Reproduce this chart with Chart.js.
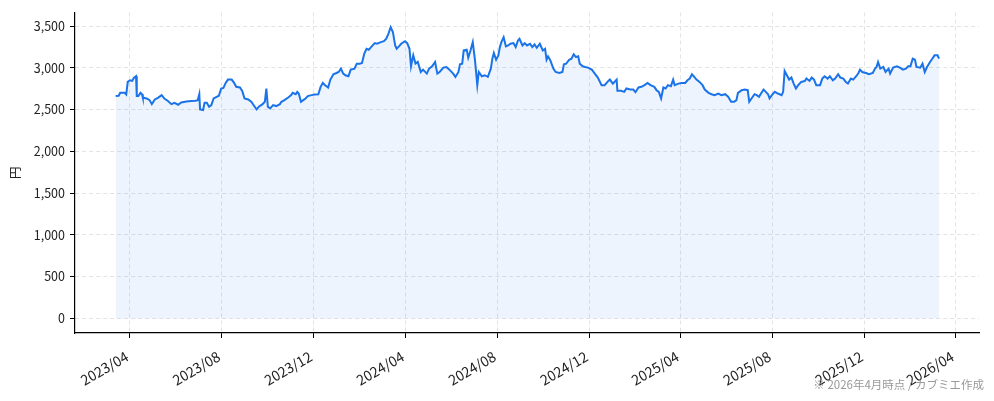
<!DOCTYPE html>
<html lang="ja">
<head>
<meta charset="utf-8">
<title>株価推移</title>
<script src="https://cdn.jsdelivr.net/npm/chart.js@4.4.1/dist/chart.umd.min.js"></script>
<style>
  html, body { margin: 0; padding: 0; background: #fff; }
  #wrap { width: 994px; height: 401px; }
</style>
</head>
<body>
<div id="wrap"><canvas id="price" width="994" height="401"></canvas></div>
<script>
// daily close (円)
const dates = [
  '2023-03-13','2023-03-17','2023-03-19','2023-03-25','2023-03-27','2023-03-29','2023-04-01','2023-04-04',
  '2023-04-06','2023-04-09','2023-04-10','2023-04-12','2023-04-15','2023-04-17','2023-04-18','2023-04-23',
  '2023-04-27','2023-04-30','2023-05-04','2023-05-08','2023-05-13','2023-05-17','2023-05-21','2023-05-26',
  '2023-05-30','2023-06-04','2023-06-08','2023-06-15','2023-06-21','2023-06-27','2023-06-30','2023-07-02',
  '2023-07-03','2023-07-07','2023-07-09','2023-07-12','2023-07-15','2023-07-18','2023-07-21','2023-07-25',
  '2023-07-28','2023-07-31','2023-08-03','2023-08-06','2023-08-09','2023-08-14','2023-08-17','2023-08-20',
  '2023-08-25','2023-08-28','2023-08-31','2023-09-05','2023-09-09','2023-09-12','2023-09-16','2023-09-19',
  '2023-09-24','2023-09-27','2023-09-29','2023-10-01','2023-10-04','2023-10-08','2023-10-12','2023-10-17',
  '2023-10-19','2023-10-23','2023-10-28','2023-11-01','2023-11-03','2023-11-07','2023-11-09','2023-11-11',
  '2023-11-14','2023-11-17','2023-11-20','2023-11-23','2023-11-28','2023-12-02','2023-12-07','2023-12-10',
  '2023-12-13','2023-12-16','2023-12-20','2023-12-23','2023-12-27','2023-12-31','2024-01-03','2024-01-06',
  '2024-01-09','2024-01-12','2024-01-16','2024-01-19','2024-01-24','2024-01-27','2024-01-31','2024-02-03',
  '2024-02-06','2024-02-09','2024-02-12','2024-02-15','2024-02-20','2024-02-23','2024-02-28','2024-03-03',
  '2024-03-06','2024-03-09','2024-03-12','2024-03-15','2024-03-18','2024-03-20','2024-03-23','2024-03-26',
  '2024-03-31','2024-04-03','2024-04-06','2024-04-08','2024-04-11','2024-04-14','2024-04-17','2024-04-21',
  '2024-04-24','2024-04-29','2024-05-02','2024-05-06','2024-05-10','2024-05-13','2024-05-16','2024-05-21',
  '2024-05-25','2024-05-29','2024-06-03','2024-06-06','2024-06-10','2024-06-12','2024-06-15','2024-06-17',
  '2024-06-21','2024-06-23','2024-06-26','2024-06-29','2024-07-02','2024-07-05','2024-07-07','2024-07-11',
  '2024-07-15','2024-07-19','2024-07-23','2024-07-25','2024-07-27','2024-07-30','2024-08-02','2024-08-04',
  '2024-08-06','2024-08-09','2024-08-12','2024-08-15','2024-08-18','2024-08-22','2024-08-25','2024-08-28',
  '2024-08-30','2024-09-03','2024-09-06','2024-09-09','2024-09-13','2024-09-16','2024-09-19','2024-09-22',
  '2024-09-26','2024-09-30','2024-10-03','2024-10-05','2024-10-07','2024-10-10','2024-10-14','2024-10-17',
  '2024-10-22','2024-10-26','2024-10-28','2024-10-31','2024-11-04','2024-11-07','2024-11-10','2024-11-13',
  '2024-11-16','2024-11-18','2024-11-22','2024-11-25','2024-11-29','2024-12-04','2024-12-08','2024-12-12',
  '2024-12-17','2024-12-21','2024-12-26','2024-12-28','2025-01-01','2025-01-06','2025-01-07','2025-01-12',
  '2025-01-16','2025-01-19','2025-01-24','2025-01-28','2025-01-31','2025-02-04','2025-02-08','2025-02-12',
  '2025-02-16','2025-02-20','2025-02-25','2025-02-28','2025-03-03','2025-03-06','2025-03-09','2025-03-12',
  '2025-03-15','2025-03-19','2025-03-22','2025-03-24','2025-03-29','2025-04-02','2025-04-07','2025-04-10',
  '2025-04-13','2025-04-16','2025-04-19','2025-04-22','2025-04-26','2025-04-30','2025-05-03','2025-05-08',
  '2025-05-12','2025-05-16','2025-05-21','2025-05-25','2025-05-30','2025-06-03','2025-06-07','2025-06-11',
  '2025-06-14','2025-06-16','2025-06-21','2025-06-25','2025-06-29','2025-07-01','2025-07-04','2025-07-08',
  '2025-07-11','2025-07-14','2025-07-16','2025-07-20','2025-07-23','2025-07-26','2025-07-28','2025-08-01',
  '2025-08-04','2025-08-08','2025-08-13','2025-08-15','2025-08-17','2025-08-20','2025-08-23','2025-08-26',
  '2025-08-29','2025-09-01','2025-09-04','2025-09-08','2025-09-13','2025-09-15','2025-09-19','2025-09-22',
  '2025-09-25','2025-09-28','2025-10-03','2025-10-06','2025-10-09','2025-10-13','2025-10-16','2025-10-20',
  '2025-10-23','2025-10-27','2025-10-30','2025-11-03','2025-11-06','2025-11-09','2025-11-13','2025-11-16',
  '2025-11-20','2025-11-23','2025-11-25','2025-11-28','2025-12-03','2025-12-07','2025-12-12','2025-12-15',
  '2025-12-17','2025-12-19','2025-12-22','2025-12-26','2025-12-29','2026-01-02','2026-01-04','2026-01-08',
  '2026-01-13','2026-01-17','2026-01-21','2026-01-25','2026-01-28','2026-01-31','2026-02-03','2026-02-06',
  '2026-02-08','2026-02-13','2026-02-16','2026-02-19','2026-02-22','2026-02-26','2026-03-01','2026-03-04',
  '2026-03-08','2026-03-10'
];

const prices = [
  2663,2667,2702,2702,2682,2833,2853,2845,
  2881,2901,2663,2663,2702,2686,2647,2635,
  2615,2567,2623,2643,2675,2631,2607,2567,
  2583,2560,2587,2599,2603,2607,2615,2686,
  2504,2496,2583,2583,2536,2556,2635,2655,
  2667,2754,2762,2821,2861,2861,2825,2774,
  2766,2726,2635,2623,2595,2556,2504,2536,
  2567,2595,2754,2536,2516,2556,2544,2567,
  2595,2615,2647,2675,2702,2686,2714,2694,
  2595,2615,2635,2663,2675,2682,2686,2774,
  2821,2794,2766,2861,2925,2940,2952,2992,
  2933,2913,2901,2980,2992,3052,3052,3060,
  3171,3230,3218,3250,3298,3290,3310,3321,
  3349,3409,3488,3429,3270,3230,3258,3290,
  3321,3298,3230,3020,3151,3052,3072,2952,
  2980,2933,2992,3020,3072,2933,2952,3004,
  3012,2980,2933,2893,2952,3044,3052,3210,
  3218,3123,3210,3310,3091,2794,2952,2901,
  2913,2893,2992,3111,3179,3099,3151,3250,
  3310,3369,3258,3270,3290,3298,3250,3329,
  3349,3270,3298,3270,3290,3250,3282,3242,
  3290,3210,3230,3099,3139,3091,2992,2952,
  2940,2952,3044,3052,3099,3111,3163,3131,
  3139,3052,3020,3012,3004,2980,2933,2885,
  2794,2794,2845,2861,2813,2861,2726,2726,
  2714,2754,2742,2742,2710,2766,2774,2794,
  2821,2794,2774,2734,2714,2635,2766,2754,
  2794,2782,2861,2794,2813,2821,2821,2853,
  2873,2925,2893,2861,2833,2794,2742,2702,
  2686,2675,2694,2675,2686,2655,2595,2595,
  2615,2702,2734,2742,2734,2595,2635,2686,
  2675,2655,2686,2742,2714,2686,2635,2686,
  2714,2694,2675,2714,2964,2913,2861,2885,
  2813,2754,2794,2833,2845,2873,2845,2885,
  2861,2794,2794,2873,2901,2873,2901,2853,
  2873,2925,2885,2873,2833,2813,2873,2861,
  2901,2940,2980,2952,2940,2925,2940,2992,
  3012,3072,2992,3012,2952,2992,2933,3004,
  3020,3004,2980,2992,3020,3020,3111,3099,
  3012,3004,3052,2952,3012,3072,3111,3151,
  3151,3111
];

const xTickLabels = ['2023/04','2023/08','2023/12','2024/04','2024/08','2024/12','2025/04','2025/08','2025/12','2026/04'];
const yTicks = [0, 500, 1000, 1500, 2000, 2500, 3000, 3500];
const xRange = ['2023-01-18', '2026-05-02'];
const yRange = [-174.5, 3664.5];
const footnote = '※ 2026年4月時点 / カブミエ作成';

const FONT = "'Noto Sans CJK JP', 'Noto Sans', sans-serif";

function ym(label) {
  const p = label.split('/');
  return Date.UTC(+p[0], +p[1] - 1, 1);
}

const points = dates.map((d, i) => ({ x: Date.parse(d), y: prices[i] }));

const footnotePlugin = {
  id: 'footnote',
  afterDraw(chart) {
    const c = chart.ctx;
    c.save();
    c.font = '11.5px ' + FONT;
    c.fillStyle = '#999999';
    c.textAlign = 'right';
    c.textBaseline = 'middle';
    c.fillText(footnote, 984, 385);
    c.restore();
  }
};

new Chart(document.getElementById('price').getContext('2d'), {
  type: 'line',
  data: {
    datasets: [{
      data: points,
      borderColor: '#1a73e8',
      backgroundColor: 'rgba(26, 115, 232, 0.08)',
      borderWidth: 2,
      fill: 'origin',
      pointRadius: 0,
      tension: 0
    }]
  },
  options: {
    responsive: false,
    animation: false,
    events: [],
    layout: { padding: { left: 0, right: 15, top: 10, bottom: 0 } },
    plugins: { legend: { display: false }, tooltip: { enabled: false } },
    scales: {
      x: {
        type: 'linear',
        min: Date.parse(xRange[0]),
        max: Date.parse(xRange[1]),
        afterBuildTicks(scale) {
          scale.ticks = xTickLabels.map(l => ({ value: ym(l) }));
        },
        afterFit(scale) { scale.height = 68; },
        ticks: {
          autoSkip: false,
          minRotation: 30,
          maxRotation: 30,
          padding: 10,
          labelOffset: -3,
          color: '#222',
          font: { family: FONT, size: 14 },
          callback: (v, i) => xTickLabels[i]
        },
        grid: {
          color: '#e3e3e3',
          tickColor: '#000',
          tickLength: 5,
          tickWidth: 1
        },
        border: { color: '#000', width: 1.2, dash: [4, 3] }
      },
      y: {
        min: yRange[0],
        max: yRange[1],
        afterBuildTicks(scale) {
          scale.ticks = yTicks.map(v => ({ value: v }));
        },
        afterFit(scale) { scale.width = 75; },
        ticks: {
          padding: 5,
          color: '#222',
          font: { family: FONT, size: 12.5 },
          callback: v => v.toLocaleString('en-US')
        },
        grid: {
          color: '#e3e3e3',
          tickColor: '#000',
          tickLength: 5,
          tickWidth: 1
        },
        border: { color: '#000', width: 1.2, dash: [4, 3] },
        title: {
          display: true,
          text: '円',
          color: '#222',
          padding: { top: 8, bottom: 0 },
          font: { family: FONT, size: 12.5 }
        }
      }
    }
  },
  plugins: [footnotePlugin]
});
</script>
</body>
</html>
